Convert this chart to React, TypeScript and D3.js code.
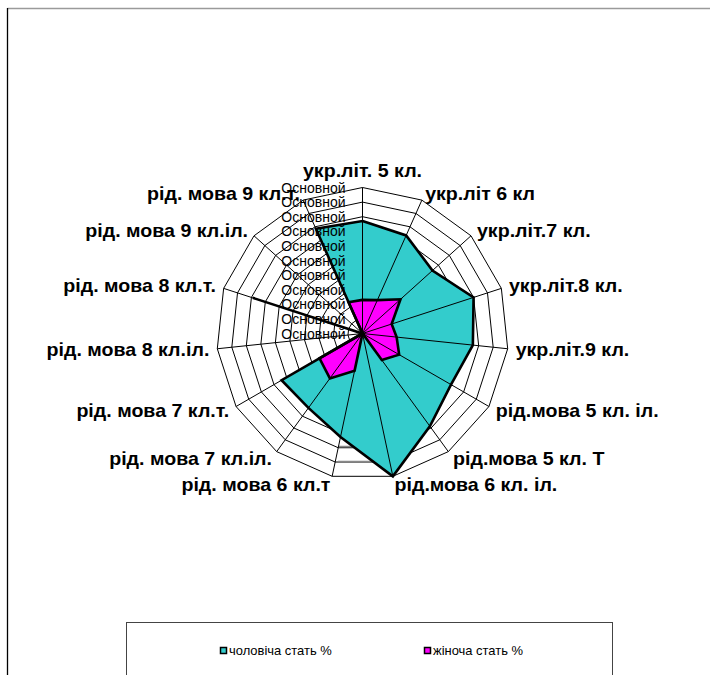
import React from 'react'
import * as d3 from 'd3'

// categories (clockwise from top)
const categories = [
  'укр.літ. 5 кл.',
  'укр.літ 6 кл',
  'укр.літ.7 кл.',
  'укр.літ.8 кл.',
  'укр.літ.9 кл.',
  'рід.мова 5 кл. іл.',
  'рід.мова 5 кл. Т',
  'рід.мова 6 кл. іл.',
  'рід. мова 6 кл.т',
  'рід. мова 7 кл.іл.',
  'рід. мова 7 кл.т.',
  'рід. мова 8 кл.іл.',
  'рід. мова 8 кл.т.',
  'рід. мова 9 кл.іл.',
  'рід. мова 9 кл.т.',
]

const maleValues = [77, 73.5, 64.5, 80, 76, 70, 78.5, 100, 72.5, 63, 64, 0, 79, 0, 78.5]
const femaleValues = [23, 25, 35, 21, 23.5, 29, 22.5, 0, 26, 38, 34, 0, 0, 0, 23.5]

const seriesNames = ['чоловіча стать %', 'жіноча стать %']
const seriesColors = ['#33CCCC', '#FF00FF']

const tickValues = [0, 10, 20, 30, 40, 50, 60, 70, 80, 90, 100]
const tickLabel = 'Основной'

const W = 710
const H = 675
const cx = 362.5
const cy = 333.5
const R = 146

export default function App() {
  const n = categories.length
  const r = d3.scaleLinear().domain([0, 100]).range([0, R])
  const angle = d3.scaleLinear().domain([0, n]).range([0, 2 * Math.PI])

  const pt = (i: number, v: number): [number, number] => {
    const a = angle(i)
    return [cx + Math.sin(a) * r(v), cy - Math.cos(a) * r(v)]
  }

  const radial = d3
    .lineRadial<number>()
    .angle((_, i) => angle(i))
    .radius((d) => r(d))
    .curve(d3.curveLinearClosed)

  const ringPath = (v: number) => radial(categories.map(() => v)) as string

  const font = '"Liberation Sans", Arial, sans-serif'

  return (
    <svg
      width={W}
      height={H}
      style={{ position: 'absolute', left: 0, top: 0, background: 'white' }}
    >
      {/* outer frame */}
      <line x1={7.5} y1={8.5} x2={W} y2={8.5} stroke="#9a9a9a" strokeWidth={1.3} />
      <line x1={7.5} y1={8} x2={7.5} y2={H} stroke="#000" strokeWidth={1.3} />

      <g transform={`translate(${cx},${cy})`}>
        {tickValues.slice(1).map((t) => (
          <path key={t} d={ringPath(t)} fill="none" stroke="#000" strokeWidth={1} />
        ))}
      </g>

      {/* stray gray lines */}
      <line x1={338} y1={446.5} x2={372} y2={446.5} stroke="#888" strokeWidth={1.5} />
      <line x1={338} y1={461.5} x2={372} y2={461.5} stroke="#888" strokeWidth={1.5} />

      <g transform={`translate(${cx},${cy})`}>
        {[maleValues, femaleValues].map((vals, s) => (
          <path key={s} d={radial(vals) as string} fill={seriesColors[s]} stroke="none" />
        ))}
      </g>

      {/* spokes */}
      {categories.map((c, i) => {
        const [x, y] = pt(i, 100)
        return <line key={c} x1={cx} y1={cy} x2={x} y2={y} stroke="#000" strokeWidth={1} />
      })}

      <g transform={`translate(${cx},${cy})`}>
        {[maleValues, femaleValues].map((vals, s) => (
          <path
            key={s}
            d={radial(vals) as string}
            fill="none"
            stroke="#000"
            strokeWidth={2.6}
            strokeLinejoin="miter"
          />
        ))}
      </g>

      {/* axis tick labels */}
      {tickValues.map((t) => (
        <text
          key={t}
          x={cx - 17}
          y={cy - r(t)}
          textAnchor="end"
          dominantBaseline="central"
          fontFamily={font}
          fontSize={14}
          fill="#000"
        >
          {tickLabel}
        </text>
      ))}

      {/* category labels */}
      {categories.map((c, i) => {
        const a = angle(i)
        const s = Math.sin(a)
        const co = Math.cos(a)
        const [vx, vy] = pt(i, 100)
        let anchor = 'middle'
        if (s > 0.1) anchor = 'start'
        else if (s < -0.1) anchor = 'end'
        const x = vx + s * 8
        const y = anchor === 'middle' ? vy - 17 : vy - co * (co < 0 ? 9 : 7)
        return (
          <text
            key={c}
            transform={`translate(${x},${y}) scale(1.09,1)`}
            textAnchor={anchor}
            dominantBaseline="central"
            fontFamily={font}
            fontWeight="bold"
            fontSize={18}
            fill="#000"
          >
            {c}
          </text>
        )
      })}

      {/* legend */}
      <rect x={126.5} y={622.5} width={486} height={80} fill="white" stroke="#444" strokeWidth={1} />
      {seriesNames.map((name, s) => {
        const lx = s === 0 ? 220 : 424
        return (
          <g key={name}>
            <rect x={lx + 0.5} y={647.5} width={6} height={6} fill={seriesColors[s]} stroke="#000" strokeWidth={1.5} />
            <text
              transform={`translate(${lx + 9},651) scale(1.08,1)`}
              dominantBaseline="central"
              fontFamily={font}
              fontSize={12}
              fill="#000"
            >
              {name}
            </text>
          </g>
        )
      })}
    </svg>
  )
}
